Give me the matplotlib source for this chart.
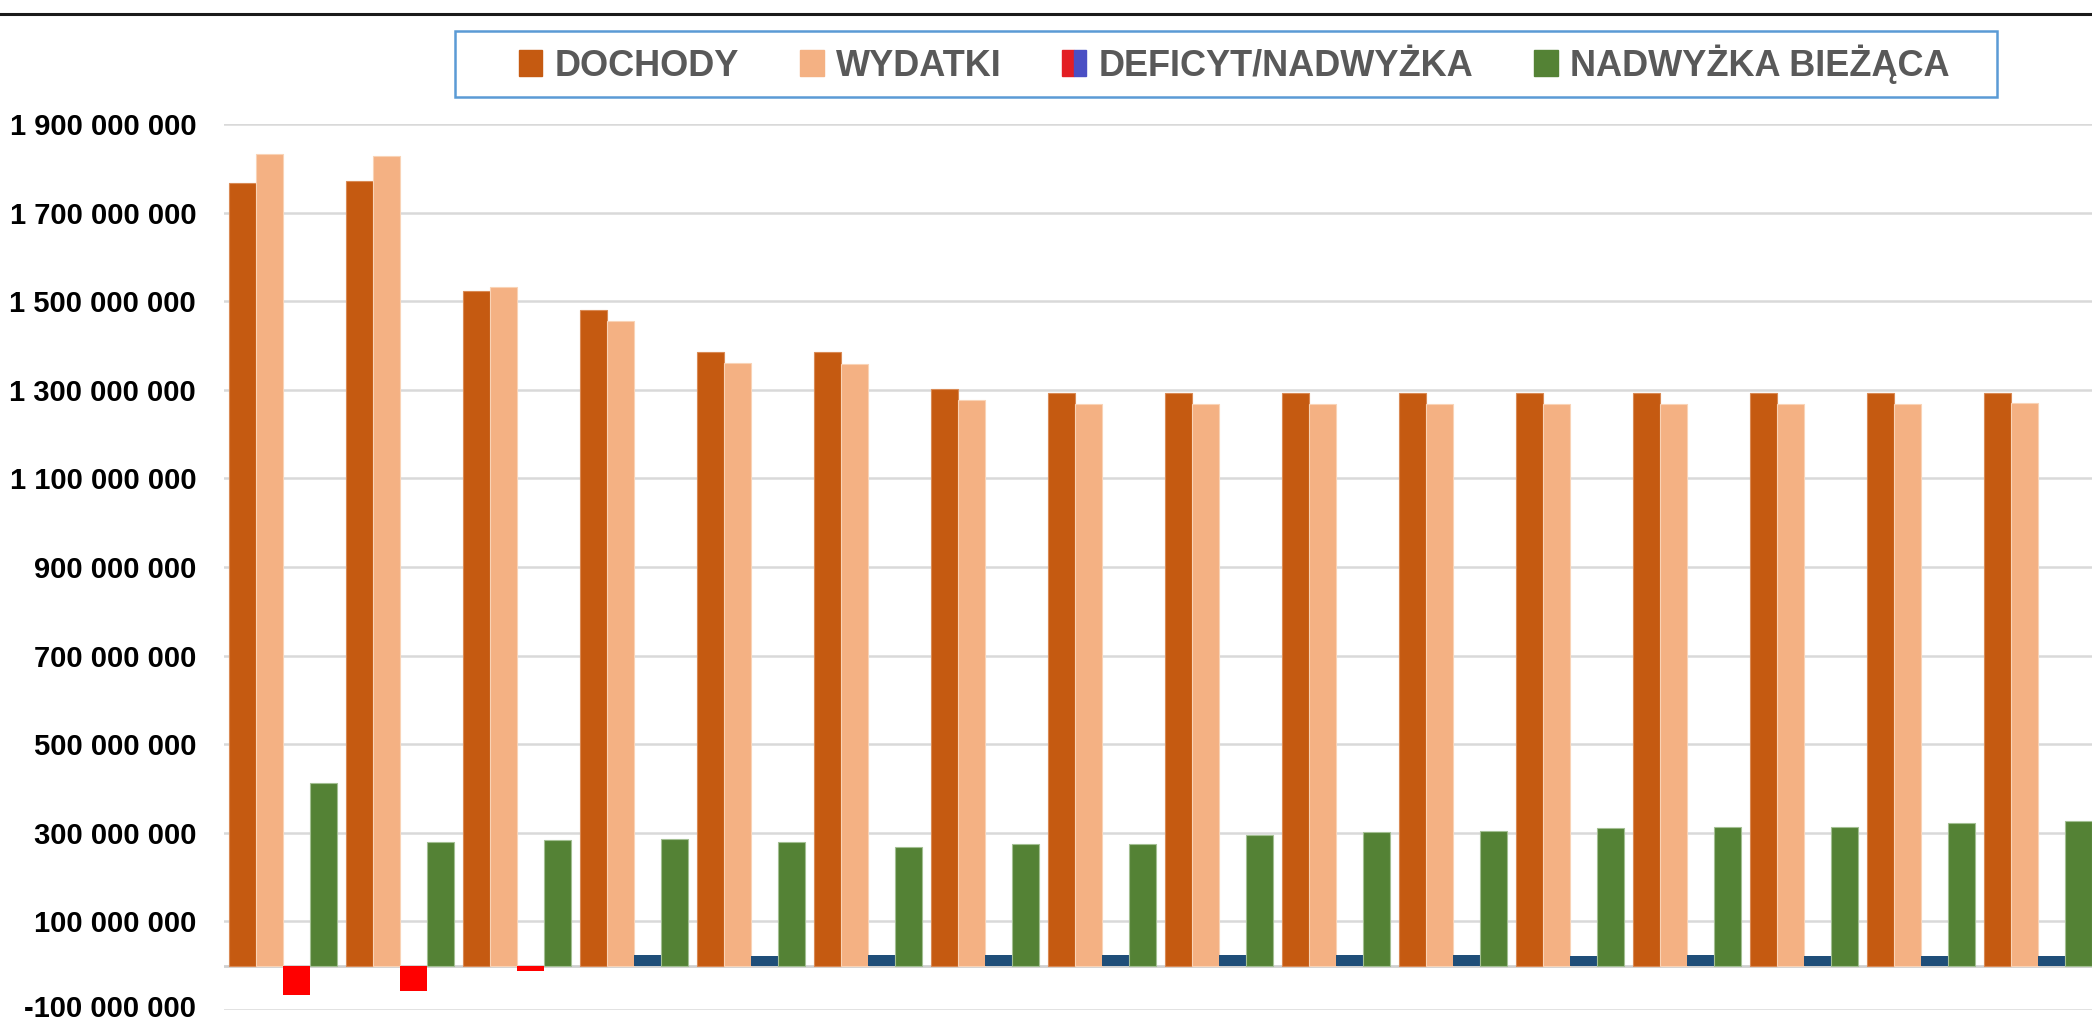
import matplotlib
matplotlib.use("Agg")
import matplotlib.pyplot as plt
import numpy as np
from matplotlib.lines import Line2D
from matplotlib.patches import Patch, Rectangle
from matplotlib.legend_handler import HandlerTuple
from matplotlib.transforms import ScaledTranslation

# values in millions of PLN
dochody = [1767.5, 1772, 1523.5, 1481, 1386, 1386, 1302, 1293,
           1293, 1293, 1293, 1293, 1293, 1293, 1293, 1293]
wydatki = [1832, 1828.5, 1533, 1456, 1360, 1359, 1277, 1268,
           1268, 1268, 1268, 1268, 1268, 1269, 1269, 1270]
deficyt = [-66, -57, -11, 25, 23, 25, 25, 25,
           25, 25, 25, 23, 25, 23, 23, 23]
nadwyzka_biezaca = [413, 279, 283, 286, 280, 267, 275, 275,
                    294, 302, 303, 310, 312, 314, 322, 327]

series_names = ["DOCHODY", "WYDATKI", "DEFICYT/NADWYŻKA", "NADWYŻKA BIEŻĄCA"]
tick_values = [-100, 100, 300, 500, 700, 900, 1100, 1300, 1500, 1700, 1900]
tick_labels = ["-100 000 000", "100 000 000", "300 000 000", "500 000 000",
               "700 000 000", "900 000 000", "1 100 000 000", "1 300 000 000",
               "1 500 000 000", "1 700 000 000", "1 900 000 000"]

SCALE = 1e6
C_DOCH = "#c55a11"
C_WYD = "#f4b183"
C_GREEN = "#548235"
C_NEG = "#ff0000"
C_POS = "#1f4e79"

plt.rcParams["font.family"] = ["Liberation Sans", "DejaVu Sans"]

W, H = 2092, 1022
fig = plt.figure(figsize=(W / 100, H / 100), dpi=100)
ax = fig.add_axes([224 / W, 12 / H, 1 - 224 / W, (1010 - 124) / H])

x = np.arange(len(dochody))
w = 27 / 117

def to_abs(vals):
    return [v * SCALE for v in vals]

ax.bar(x - 1.5 * w, to_abs(dochody), w, color=C_DOCH, edgecolor="#d98a55", linewidth=0.8, zorder=3)
ax.bar(x - 0.5 * w, to_abs(wydatki), w, color=C_WYD, edgecolor="#f9d3b6", linewidth=0.8, zorder=3)
ax.bar(x + 0.5 * w, to_abs(deficyt), w,
       color=[C_NEG if v < 0 else C_POS for v in deficyt], linewidth=0, zorder=3)
ax.bar(x + 1.5 * w, to_abs(nadwyzka_biezaca), w, color=C_GREEN, edgecolor="#a3bf92", linewidth=0.8, zorder=3)

ax.set_xlim(-0.504, 15.462)
ax.set_ylim(-100 * SCALE, 1900 * SCALE)
ax.set_xticks([])
ax.set_yticks(to_abs(tick_values))
ax.set_yticklabels(tick_labels, fontsize=21, fontweight="bold", color="black")
ax.tick_params(axis="y", length=0, pad=20)
ax.grid(axis="y", color="#d9d9d9", linewidth=1.8, zorder=0)
ax.axhline(0, color="#d0d0d0", linewidth=2.0, zorder=2)
for s in ax.spines.values():
    s.set_visible(False)

# the lowest label sits on the bottom edge; lift it a little so it is not clipped
low = ax.get_yticklabels()[0]
low.set_transform(low.get_transform() + ScaledTranslation(0, 4 / 100, fig.dpi_scale_trans))

# black rule across the top of the picture
fig.add_artist(Line2D([0, 1], [1 - 14 / H] * 2, color="#1a1a1a", linewidth=2.2))

# legend box, drawn separately so its padding can match the reference
fig.add_artist(Rectangle((455 / W, 1 - 97 / H), 1542 / W, 66 / H, transform=fig.transFigure,
                         facecolor="white", edgecolor="#5b9bd5", linewidth=1.8, zorder=5))

handles = [
    Patch(color=C_DOCH),
    Patch(color=C_WYD),
    (Patch(color="#e31e24"), Patch(color="#4a4fc4")),
    Patch(color=C_GREEN),
]
leg = fig.legend(handles, series_names, ncol=4, loc="center",
                 bbox_to_anchor=(1234 / W, 1 - 64 / H),
                 handler_map={tuple: HandlerTuple(ndivide=None, pad=0)},
                 prop={"size": 26, "weight": "bold"}, labelcolor="#595959",
                 handlelength=0.66, handleheight=0.7, handletextpad=0.34,
                 columnspacing=1.68, borderpad=0, borderaxespad=0, frameon=False)
leg.set_zorder(6)

fig.savefig("out.png", dpi=100)
